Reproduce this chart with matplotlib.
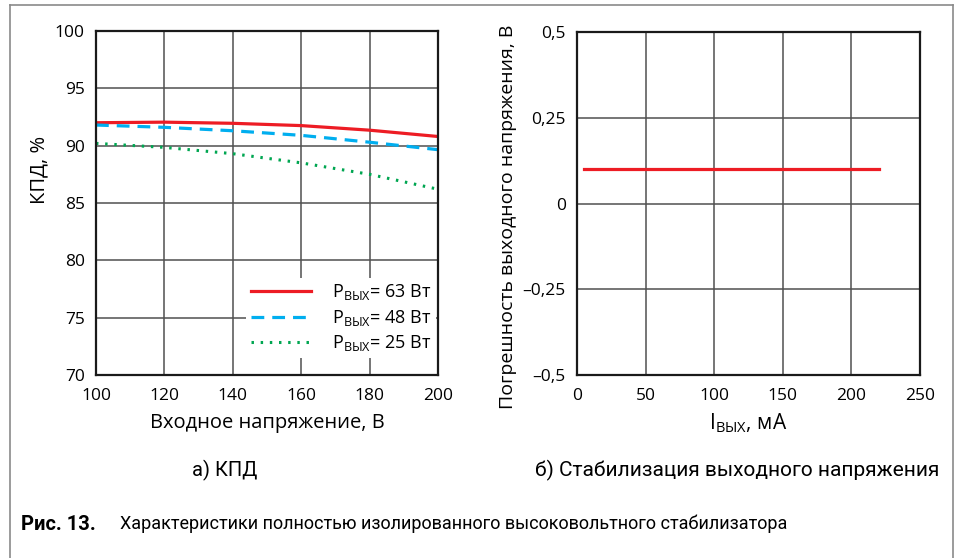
import matplotlib.pyplot as plt
from matplotlib.lines import Line2D

plt.rcParams['font.family'] = ['Open Sans', 'DejaVu Sans']

# а) КПД
u_in = [100, 120, 140, 160, 180, 200]
eff_63 = [92.0, 92.05, 91.95, 91.75, 91.35, 90.8]
eff_48 = [91.8, 91.6, 91.3, 90.9, 90.3, 89.65]
eff_25 = [90.2, 89.85, 89.3, 88.5, 87.5, 86.2]
labels = ['P$_\\mathregular{ВЫХ}$= 63 Вт', 'P$_\\mathregular{ВЫХ}$= 48 Вт', 'P$_\\mathregular{ВЫХ}$= 25 Вт']

# б) стабилизация
i_out = [5, 220]
err = [0.1, 0.1]

x_ticks_a = [100, 120, 140, 160, 180, 200]
y_ticks_a = [70, 75, 80, 85, 90, 95, 100]
x_ticks_b = [0, 50, 100, 150, 200, 250]
y_ticks_b = [-0.5, -0.25, 0, 0.25, 0.5]
y_labels_b = ['\u20130,5', '\u20130,25', '0', '0,25', '0,5']

red = '#ed1c24'
blue = '#00aeef'
green = '#00a651'
grid_c = '#505050'

fig = plt.figure(figsize=(9.59, 5.58), dpi=100)
ax1 = fig.add_axes([96/959, 1-375/558, 342/959, 344/558])
ax2 = fig.add_axes([577/959, 1-375/558, 343/959, 343/558])

ax1.plot(u_in, eff_63, color=red, lw=2.3, label=labels[0])
ax1.plot(u_in, eff_48, color=blue, lw=2.3, dashes=(4, 2.5), label=labels[1])
ax1.plot(u_in, eff_25, color=green, lw=2.2, dashes=(0.8, 2.2), label=labels[2])
ax1.set_xlim(100, 200)
ax1.set_ylim(70, 100)
ax1.set_xticks(x_ticks_a)
ax1.set_yticks(y_ticks_a)
ax1.set_xlabel('Входное напряжение, В', fontsize=14.5, labelpad=7)
ax1.set_ylabel('КПД, %', fontsize=14.5)
ax1.yaxis.set_label_coords(-0.135, 0.596)
leg = ax1.legend(loc='center left', bbox_to_anchor=(0.44, 0.166), frameon=True,
                 fontsize=13, handlelength=3.3, handletextpad=1.2, labelspacing=0.3,
                 borderpad=0.25, borderaxespad=0)
leg.get_frame().set_edgecolor('none')
leg.get_frame().set_facecolor('white')
leg.get_frame().set_alpha(1)

ax2.plot(i_out, err, color=red, lw=2.3)
ax2.set_xlim(0, 250)
ax2.set_ylim(-0.5, 0.5)
ax2.set_xticks(x_ticks_b)
ax2.set_yticks(y_ticks_b)
ax2.set_yticklabels(y_labels_b)
ax2.set_xlabel('I$_\\mathregular{ВЫХ}$, мА', fontsize=15, labelpad=6)
ax2.set_ylabel('Погрешность выходного напряжения, В', fontsize=14)
ax2.yaxis.set_label_coords(-0.175, 0.46)

for ax in (ax1, ax2):
    ax.grid(True, color=grid_c, lw=1.1)
    ax.set_axisbelow(True)
    ax.tick_params(length=0, labelsize=12.5)
    ax.tick_params(axis='x', pad=9)
    ax.tick_params(axis='y', pad=8)
    for s in ax.spines.values():
        s.set_linewidth(1.6)
        s.set_color('#1a1a1a')

cond = ['Roboto', 'DejaVu Sans']
fig.text(225/959, 1-470/558, 'а) КПД', ha='center', va='center', fontsize=14.5, family=cond)
fig.text(737/959, 1-470/558, 'б) Стабилизация выходного напряжения', ha='center', va='center',
         fontsize=15, family=cond)
fig.text(21/959, 1-524/558, 'Рис. 13.', ha='left', va='center', fontsize=14.5,
         fontweight='bold', family=cond)
fig.text(120/959, 1-524/558, 'Характеристики полностью изолированного высоковольтного стабилизатора',
         ha='left', va='center', fontsize=13, family=cond)

# outer frame
fc = '#8a8a8a'
fig.add_artist(Line2D([10/959, 10/959], [0, 1-5/558], color=fc, lw=1.2))
fig.add_artist(Line2D([953/959, 953/959], [0, 1-5/558], color=fc, lw=1.2))
fig.add_artist(Line2D([10/959, 953/959], [1-5/558, 1-5/558], color=fc, lw=1.2))

fig.savefig('out.png', dpi=100)
